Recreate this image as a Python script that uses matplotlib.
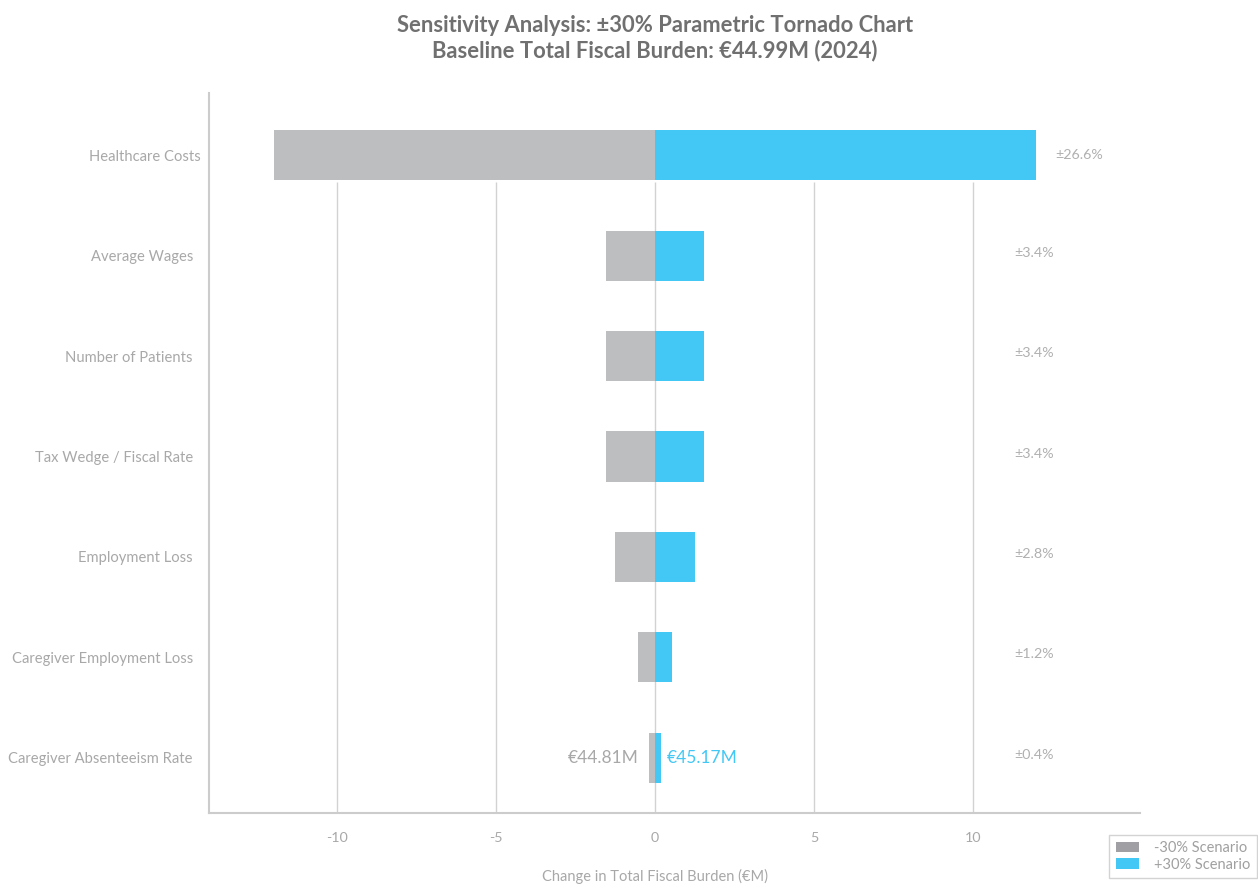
import matplotlib
matplotlib.use("Agg")
import matplotlib.pyplot as plt
from matplotlib.patches import Patch
import matplotlib.transforms as mtransforms

plt.rcParams['font.family'] = ['Lato', 'DejaVu Sans']

categories = ["Healthcare Costs", "Average Wages", "Number of Patients",
              "Tax Wedge / Fiscal Rate", "Employment Loss",
              "Caregiver Employment Loss", "Caregiver Absenteeism Rate"]
low_change = [-11.97, -1.53, -1.53, -1.53, -1.26, -0.54, -0.18]
high_change = [11.97, 1.53, 1.53, 1.53, 1.26, 0.54, 0.18]
swing_labels = ["±26.6%", "±3.4%", "±3.4%", "±3.4%", "±2.8%", "±1.2%", "±0.4%"]
baseline = 44.99
low_total_label = "€44.81M"
high_total_label = "€45.17M"
xticks = [-10, -5, 0, 5, 10]

GRAY = "#bdbec0"
GRAY_LEG = "#a0a0a4"
BLUE = "#43c8f5"

fig = plt.figure(figsize=(12.58, 8.84), dpi=100)
ax = fig.add_axes([0.1661, 0.0803, 0.9062 - 0.1661, 0.8948 - 0.0803])

y = list(range(len(categories)))
ax.set_xlim(-14.03, 15.25)
ax.set_ylim(6.55, -0.62)

# gridlines (start just under the top bar)
ax.vlines(xticks, 6.55, y[0] + 0.27, colors="#d2d2d2", linewidth=1.0, zorder=1)

ax.barh(y, low_change, height=0.5, color=GRAY, zorder=2)
ax.barh(y, high_change, height=0.5, color=BLUE, zorder=2)

for yi, hi, lab in zip(y, high_change, swing_labels):
    xpos = max(hi + 0.6, 11.3)
    ax.text(xpos, yi - (0.0 if yi == 0 else 0.03), lab, ha="left", va="center",
            fontsize=10.3, color="#b0b0b0")

yl = y[-1]
ax.text(low_change[-1] - 0.35, yl, low_total_label, ha="right", va="center",
        fontsize=12.5, color="#a8a8a8")
ax.text(high_change[-1] + 0.2, yl, high_total_label, ha="left", va="center",
        fontsize=12.5, color=BLUE)

ax.set_yticks(y)
ax.set_yticklabels(categories, fontsize=10.6, color="#a8a8a8")
ax.set_xticks(xticks)
ax.set_xticklabels([str(t) for t in xticks], fontsize=10.3, color="#a8a8a8")
ax.tick_params(axis="both", length=0)
ax.tick_params(axis="y", pad=11.5)
ax.tick_params(axis="x", pad=14)

# top label sits slightly further right in the reference
lbl0 = ax.get_yticklabels()[0]
lbl0.set_transform(lbl0.get_transform() +
                   mtransforms.ScaledTranslation(8 / 100, 0, fig.dpi_scale_trans))

for s in ["top", "right"]:
    ax.spines[s].set_visible(False)
for s in ["left", "bottom"]:
    ax.spines[s].set_color("#cccccc")
    ax.spines[s].set_linewidth(1.5)

trans = mtransforms.blended_transform_factory(ax.transData, fig.transFigure)
ax.text(0, 1 - 876 / 884, "Change in Total Fiscal Burden (€M)", transform=trans,
        ha="center", va="center", fontsize=10.5, color="#a8a8a8")

fig.text(655 / 1258, 1 - 25 / 884, "Sensitivity Analysis: ±30% Parametric Tornado Chart",
         ha="center", va="center", fontsize=15.8, fontweight="bold", color="#707070")
fig.text(655 / 1258, 1 - 51 / 884, "Baseline Total Fiscal Burden: €44.99M (2024)",
         ha="center", va="center", fontsize=15.8, fontweight="bold", color="#707070")

handles = [Patch(facecolor=GRAY_LEG, label="-30% Scenario"),
           Patch(facecolor=BLUE, label="+30% Scenario")]
leg = fig.legend(handles=handles, loc="lower right", bbox_to_anchor=(1.0, 0.005),
                 fontsize=10.5, frameon=True, fancybox=False, edgecolor="#c8c8c8",
                 handlelength=1.6, handleheight=0.7, labelspacing=0.15,
                 borderpad=0.45, handletextpad=1.0, borderaxespad=0.1)
for t in leg.get_texts():
    t.set_color("#a0a0a0")
leg.get_frame().set_linewidth(1.0)

fig.savefig("out.png", dpi=100, facecolor="white")
